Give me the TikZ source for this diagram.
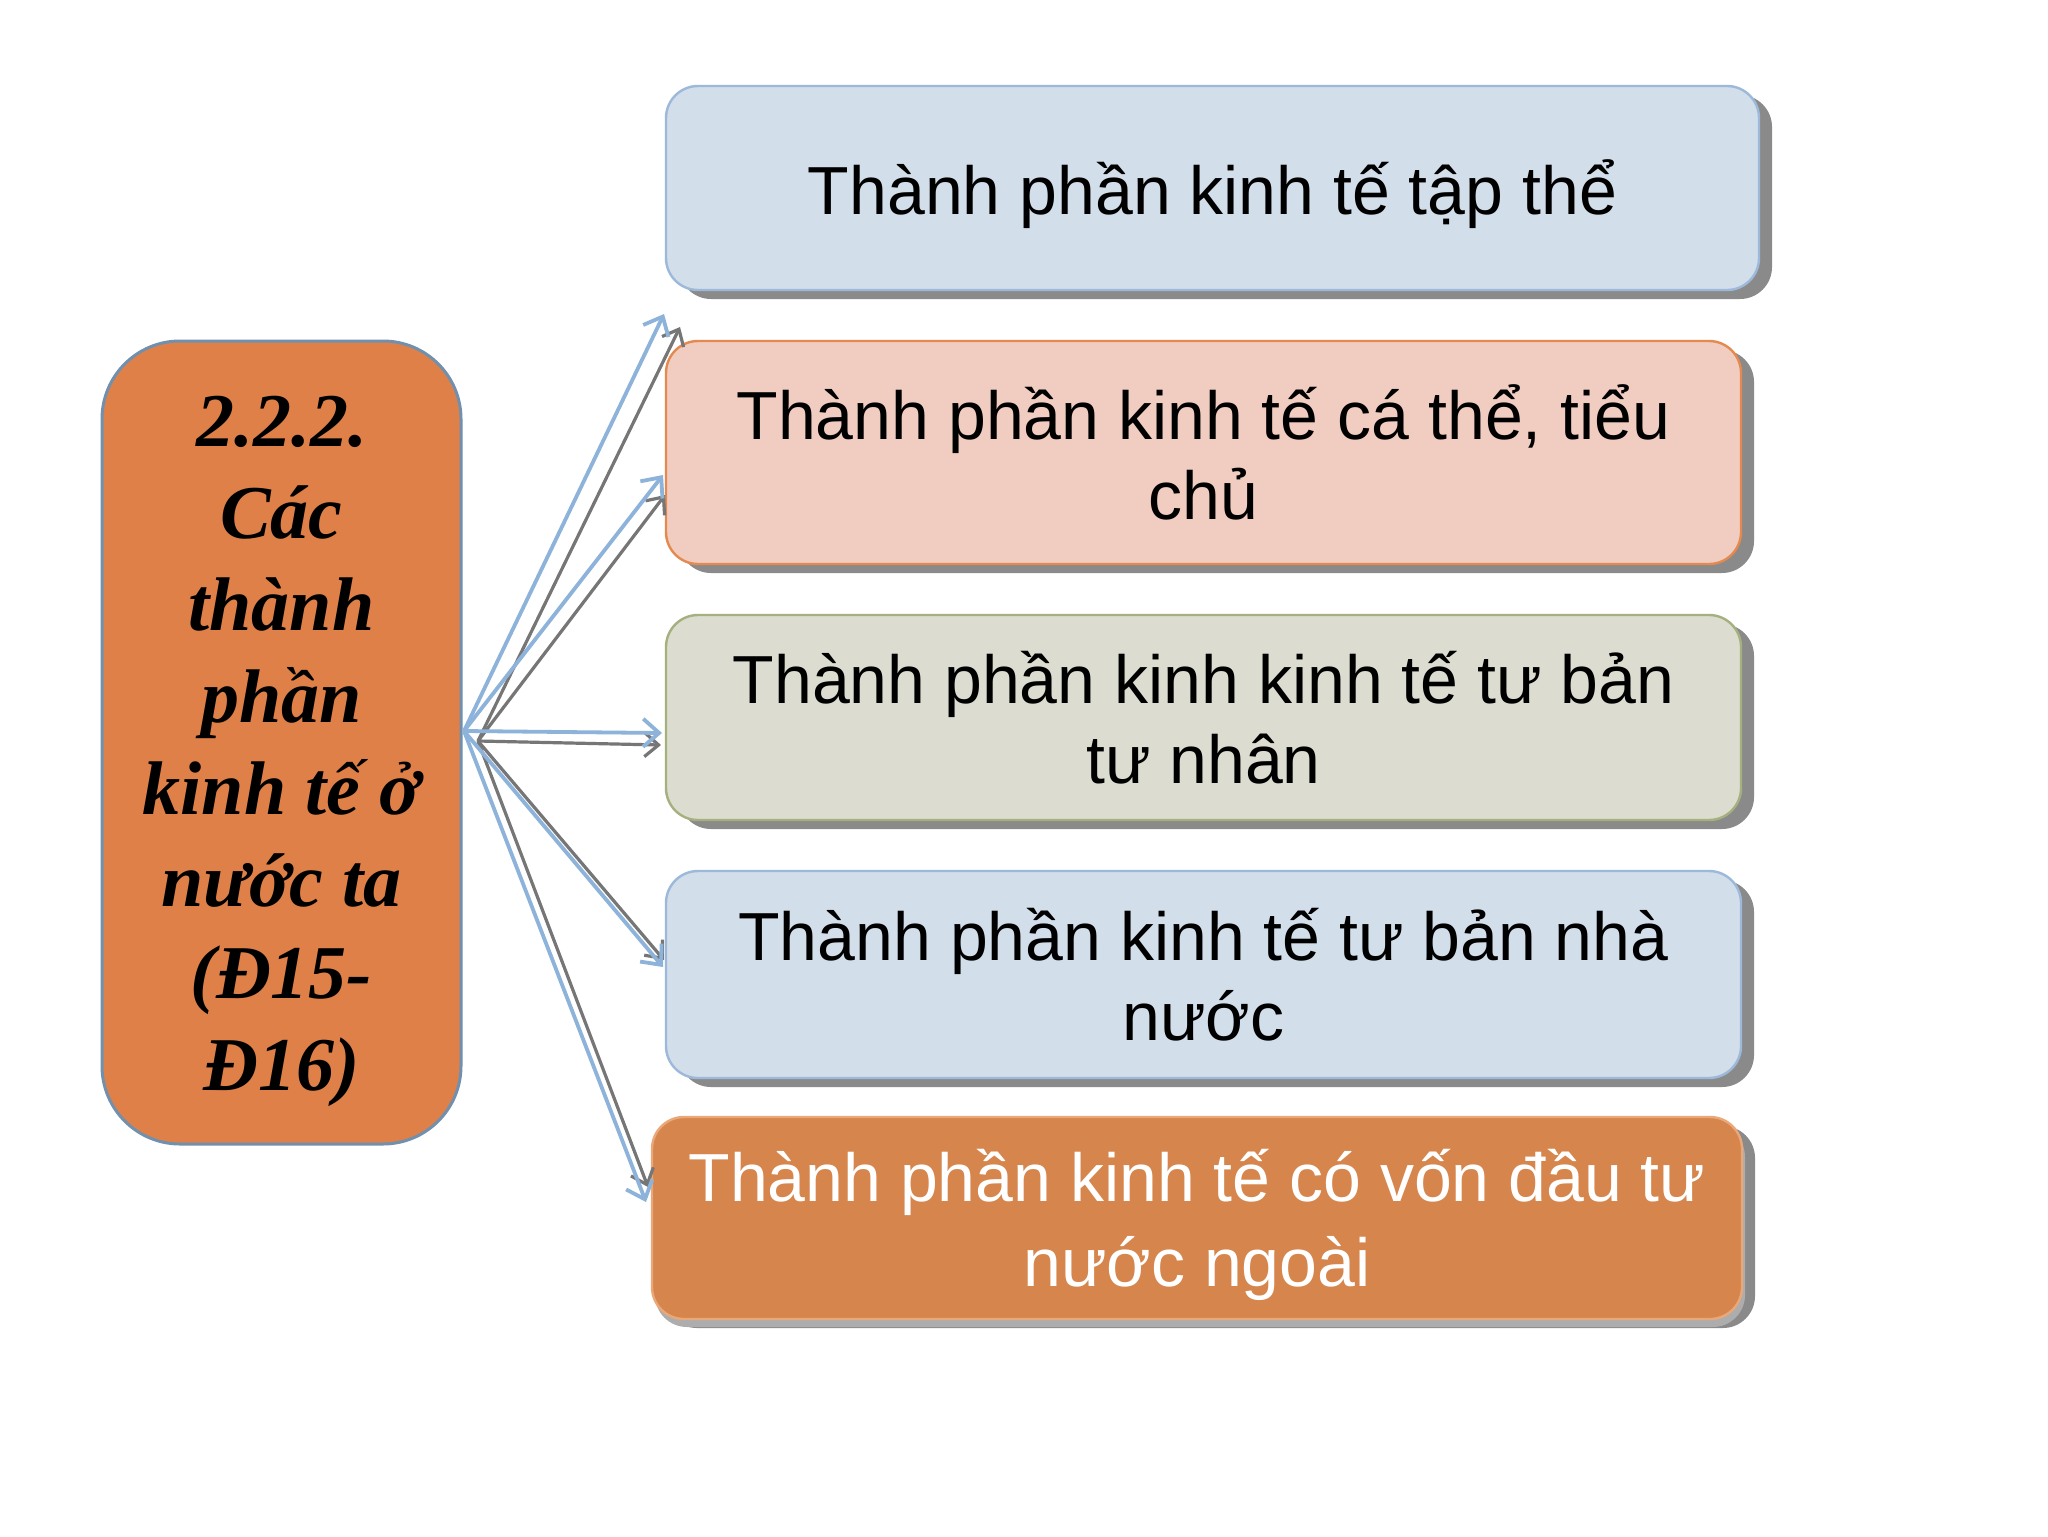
\documentclass[tikz,border=0pt]{standalone}
\usepackage{fontspec}
\setmainfont{Liberation Sans}
\newfontfamily\titlefont{Liberation Serif}
\usetikzlibrary{arrows.meta,shadows}
\definecolor{mainfill}{HTML}{DF8049}
\definecolor{mainborder}{HTML}{7090AE}
\definecolor{bluefill}{HTML}{D3DEEB}
\definecolor{blueborder}{HTML}{9DB9D9}
\definecolor{pinkfill}{HTML}{F1CDC1}
\definecolor{pinkborder}{HTML}{E4894F}
\definecolor{greenfill}{HTML}{DCDDD0}
\definecolor{greenborder}{HTML}{A5B07F}
\definecolor{orfill}{HTML}{D6854C}
\definecolor{orborder}{HTML}{EAA878}
\definecolor{shadowgray}{HTML}{8A8A8A}
\definecolor{arrblue}{HTML}{8DB3DA}
\definecolor{arrgray}{HTML}{767676}
\begin{document}
\begin{tikzpicture}[x=0.5pt,y=-0.5pt,
  leftbox/.style={draw=mainborder, fill=mainfill, line width=1.5pt, rounded corners=39pt,
    minimum width=179.5pt, minimum height=401.5pt},
  lefttext/.style={align=center, inner sep=0pt,
    font=\titlefont\bfseries\itshape\fontsize{38}{46}\selectfont},
  itembox/.style={line width=1.2pt, rounded corners=16pt,
    drop shadow={shadow xshift=6.5pt, shadow yshift=-4.5pt, fill=shadowgray, opacity=1}},
  itemtext/.style={align=center, inner sep=0pt, font=\fontsize{34}{40}\selectfont},
  bluearr/.style={draw=arrblue, line width=1.9pt, -{Straight Barb[length=8pt,width=14pt,line width=1.9pt]}},
  grayarr/.style={draw=arrgray, line width=1.6pt, -{Straight Barb[length=7pt,width=12pt,line width=1.6pt]}}
]
\useasboundingbox[fill=white] (0,0) rectangle (2048,1536);

\node[leftbox] (main) at (281.5,742.5) {};
\node[lefttext] (maint) at ([yshift=-4.5pt]main.center) {2.2.2.\\Các\\thành\\phần\\kinh tế ở\\nước ta\\(Đ15-\\Đ16)};

\node[itembox, fill=bluefill, draw=blueborder, minimum width=546.5pt, minimum height=102pt] (b1) at (1212.5,188) {};
\node[itembox, fill=pinkfill, draw=pinkborder, minimum width=537.5pt, minimum height=111.5pt] (b2) at (1203.5,452.5) {};
\node[itembox, fill=greenfill, draw=greenborder, minimum width=537.5pt, minimum height=102.5pt] (b3) at (1203.5,717.5) {};
\node[itembox, fill=bluefill, draw=blueborder, minimum width=537.5pt, minimum height=103.5pt] (b4) at (1203.5,974.5) {};
\node[itembox, fill=orfill, draw=orborder, minimum width=545pt, minimum height=101pt,
  drop shadow={shadow xshift=1.5pt, shadow yshift=-4pt, fill=shadowgray!70, opacity=1}] (b5) at (1197,1218) {};

\node[itemtext] (b1t) at ([yshift=-3pt]b1.center) {Thành phần kinh tế tập thể};
\node[itemtext] (b2t) at (b2.center) {Thành phần kinh tế cá thể, tiểu\\chủ};
\node[itemtext] (b3t) at (b3.center) {Thành phần kinh kinh tế tư bản\\tư nhân};
\node[itemtext] (b4t) at (b4.center) {Thành phần kinh tế tư bản nhà\\nước};
\node[itemtext, text=white, font=\fontsize{34}{42.5}\selectfont] (b5t) at ([yshift=-3.5pt]b5.center) {Thành phần kinh tế có vốn đầu tư\\nước ngoài};

\coordinate (ob) at (464,731);
\coordinate (og) at (478,741);
\coordinate (t1) at (664,314);
\coordinate (t2) at (663,475);
\coordinate (t3) at (662,733);
\coordinate (t4) at (663,967);
\coordinate (t5) at (646,1202);
\coordinate (g1) at (680,327);
\coordinate (g2) at (665,495);
\coordinate (g3) at (661,745);
\coordinate (g4) at (664,960);
\coordinate (g5) at (648,1187);

\foreach \i in {1,...,5} {\draw[grayarr] (og) -- (g\i);}
\foreach \i in {1,...,5} {\draw[bluearr] (ob) -- (t\i);}
\end{tikzpicture}
\end{document}
